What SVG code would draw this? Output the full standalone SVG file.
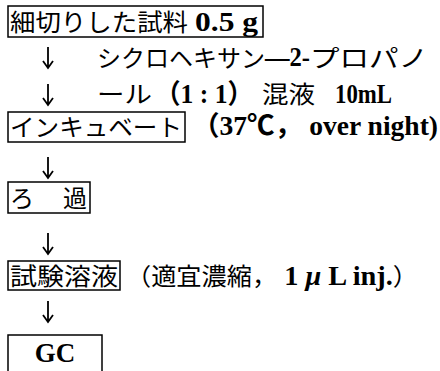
<svg xmlns="http://www.w3.org/2000/svg" width="440" height="371" viewBox="0 0 440 371">
<style>
.box{fill:none;stroke:#000;stroke-width:1.5}
.jp{font-family:"Noto Sans CJK JP","Liberation Serif",sans-serif;font-size:24px;fill:#000}
.lt{font-family:"Liberation Serif","Noto Sans CJK JP",serif;font-weight:bold;font-size:27px;fill:#000}
.arr{stroke:#000;stroke-width:1.8;fill:none}
</style>
<rect width="440" height="371" fill="#fff"/>
<g id="connectors">
<path class="arr" d="M48,47V68M43,61L48,68L53,61"/>
<path class="arr" d="M48,84V105M43,98L48,105L53,98"/>
<path class="arr" d="M48,157V178M43,171L48,178L53,171"/>
<path class="arr" d="M48,233V254M43,247L48,254L53,247"/>
<path class="arr" d="M48,301V322M43,315L48,322L53,315"/>
</g>
<g id="n1">
<rect class="box" x="8" y="6" width="255" height="31"/>
<text class="jp" x="10" y="31" textLength="178" lengthAdjust="spacingAndGlyphs">細切りした試料</text>
<text class="lt" x="195" y="31" textLength="63" lengthAdjust="spacingAndGlyphs">0.5 g</text>
</g>
<g id="solvent">
<text class="jp" x="97" y="67" textLength="168" lengthAdjust="spacingAndGlyphs">シクロヘキサン</text>
<text class="lt" x="265" y="66" textLength="45" lengthAdjust="spacingAndGlyphs">—2-</text>
<text class="jp" x="310" y="67" textLength="118" lengthAdjust="spacingAndGlyphs">プロパノ</text>
<text class="jp" x="97" y="103" textLength="55" lengthAdjust="spacingAndGlyphs">ール</text>
<text class="lt" x="155" y="103" textLength="98" lengthAdjust="spacingAndGlyphs">（1 : 1）</text>
<text class="jp" x="262" y="103" textLength="53" lengthAdjust="spacingAndGlyphs">混液</text>
<text class="lt" x="335" y="103" textLength="57" lengthAdjust="spacingAndGlyphs">10mL</text>
</g>
<g id="n2">
<rect class="box" x="8" y="112" width="177" height="30"/>
<text class="jp" x="10" y="136" textLength="172" lengthAdjust="spacingAndGlyphs">インキュベート</text>
<text class="lt" x="192" y="135" textLength="246" lengthAdjust="spacingAndGlyphs">（37℃，  over night)</text>
</g>
<g id="n3">
<rect class="box" x="8" y="182" width="82" height="31"/>
<text class="jp" x="10" y="207">ろ</text>
<text class="jp" x="63" y="207">過</text>
</g>
<g id="n4">
<rect class="box" x="8" y="261" width="112" height="29"/>
<text class="jp" x="10" y="285" textLength="108" lengthAdjust="spacingAndGlyphs">試験溶液</text>
<text class="jp" x="126" y="285" textLength="292" lengthAdjust="spacingAndGlyphs">（適宜濃縮，<tspan class="lt">  1</tspan><tspan font-family="Liberation Serif" font-style="italic" font-weight="bold" font-size="27"> μ</tspan><tspan class="lt"> L inj.</tspan>）</text>
</g>
<g id="n5">
<rect class="box" x="8" y="335" width="94" height="42"/>
<text class="lt" x="55" y="362" text-anchor="middle" font-size="29">GC</text>
</g>
</svg>
